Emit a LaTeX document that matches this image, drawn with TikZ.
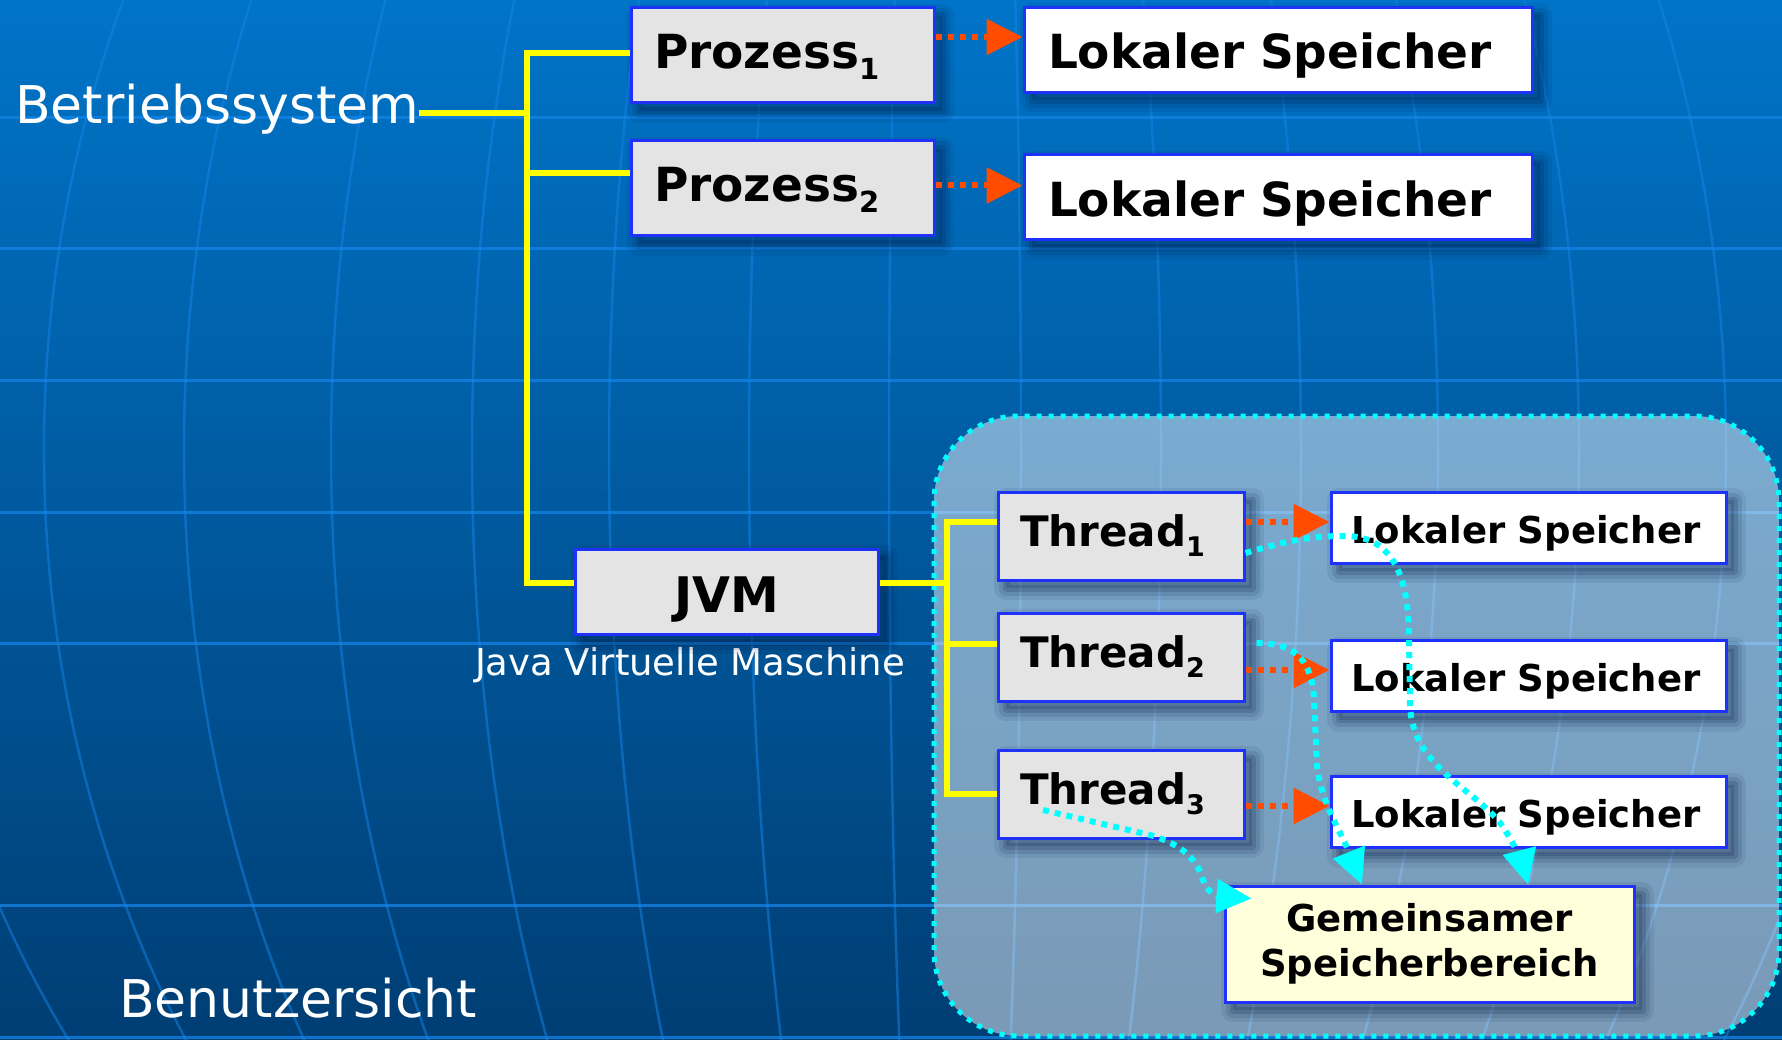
\documentclass[tikz,border=0pt]{standalone}
\usepackage{fontspec}
\setmainfont{DejaVu Sans}
\usetikzlibrary{arrows.meta,calc}

\definecolor{bgtop}{RGB}{0,116,200}
\definecolor{bgbot}{RGB}{0,62,116}
\definecolor{gridblue}{RGB}{20,132,232}
\definecolor{boxline}{RGB}{30,50,250}
\definecolor{boxgray}{RGB}{228,228,228}
\definecolor{memyellow}{RGB}{255,255,220}
\definecolor{linkyellow}{RGB}{255,255,0}
\definecolor{ptrorange}{RGB}{255,76,0}
\definecolor{sharecyan}{RGB}{0,255,255}
\definecolor{shadowblue}{RGB}{0,20,60}

% font size helper (1pt = 1 pixel of the drawing)
\newcommand\fsz[1]{\fontsize{#1}{#1}\selectfont}
\newcommand\psub[1]{\raisebox{-11pt}{\fsz{29}#1}}
\newcommand\tsub[1]{\raisebox{-10pt}{\fsz{27}#1}}

\begin{document}
\begin{tikzpicture}[x=1pt,y=-1pt,
  hgrid/.style={draw=gridblue, line width=3pt, opacity=0.75},
  mgrid/.style={draw=gridblue, line width=2.5pt, opacity=0.5},
  % soft shadow built from stacked translucent outlines
  softshadow/.style={
    preaction={draw=shadowblue, line width=24pt, opacity=0.08, line join=round,
      transform canvas={xshift=8pt,yshift=-8pt}},
    preaction={draw=shadowblue, line width=15pt, opacity=0.11, line join=round,
      transform canvas={xshift=8pt,yshift=-8pt}},
    preaction={draw=shadowblue, fill=shadowblue, line width=7pt, opacity=0.16,
      line join=round, transform canvas={xshift=8pt,yshift=-8pt}}},
  basebox/.style={rectangle, softshadow, draw=boxline, line width=3pt, inner ysep=0pt},
  procbox/.style={basebox, fill=boxgray, font=\bfseries\fsz{47},
    inner xsep=23pt, text width=257pt, align=left, minimum height=95pt,
    text height=36pt, text depth=9pt},
  lsbig/.style={basebox, fill=white, font=\bfseries\fsz{47},
    inner xsep=24pt, text width=460pt, align=left, minimum height=85pt,
    text height=38pt, text depth=0pt},
  jvmbox/.style={basebox, fill=boxgray, font=\bfseries\fsz{49},
    inner xsep=10pt, text width=283pt, align=center, minimum height=85pt,
    text height=41pt, text depth=0pt},
  thrbox/.style={basebox, fill=boxgray, font=\bfseries\fsz{42},
    inner xsep=22pt, text width=202pt, align=left, minimum height=88pt,
    text height=31pt, text depth=10pt},
  lssmall/.style={basebox, fill=white, font=\bfseries\fsz{37},
    inner xsep=20pt, text width=355pt, align=left, minimum height=71pt,
    text height=31pt, text depth=0pt},
  gembox/.style={basebox, fill=memyellow, font=\bfseries\fontsize{37}{45}\selectfont,
    inner xsep=10pt, text width=389pt, align=center, minimum height=116pt},
  whitetext/.style={inner sep=0pt, text=white},
  yline/.style={draw=linkyellow, line width=6pt, line join=miter},
  oarrow/.style={draw=ptrorange, line width=6pt,
    dash pattern=on 6pt off 6pt, -{Triangle[length=36pt,width=35pt]}},
  carrow/.style={draw=sharecyan, line width=6pt,
    dash pattern=on 6pt off 6pt, -{Triangle[length=35pt,width=33pt]}},
  region/.style={draw=sharecyan, line width=5pt, dash pattern=on 5pt off 7pt,
    fill=white, fill opacity=0.48, rounded corners=85pt}
]
\useasboundingbox (0,0) rectangle (1782,1040);

% backdrop: gradient with a faint globe grid
\fill[top color=bgtop, bottom color=bgbot] (0,0) rectangle (1782,1040);
\begin{scope}
  \clip (0,0) rectangle (1782,1040);
  \foreach \yy in {118,249,380,512,643,905,1037}
    \draw[hgrid] (0,\yy) -- (1782,\yy);
  \foreach \aa in {66,206,346,483,624,771,911,1050}
    \draw[mgrid] (955,450) ellipse [x radius=\aa pt, y radius=1100pt];
\end{scope}

% user-space area holding the JVM threads
\path[region] (934,416) rectangle (1779,1036);

% free labels
\node[whitetext, anchor=base west, font=\fsz{52}] (bs) at (15,124) {Betriebssystem};
\node[whitetext, anchor=base west, font=\fsz{52}] (us) at (119,1017) {Benutzersicht};
\node[whitetext, anchor=base, font=\fsz{37}] (jvmlabel) at (690,675) {Java Virtuelle Maschine};

% tree junctions
\coordinate (osbus) at (527,113);
\coordinate (jbus) at (947,583);

% processes and their memories
\node[procbox] (p1) at (782.5,55.5) {Prozess\psub{1}};
\node[procbox] (p2) at (782.5,188.5) {Prozess\psub{2}};
\node[lsbig] (ls1) at (1278,50) {Lokaler Speicher};
\node[lsbig] (ls2) at (1278,197.5) {Lokaler Speicher};

% virtual machine and its threads
\node[jvmbox] (jvm) at (726.5,591.5) {JVM};
\node[thrbox] (t1) at (1121,536) {Thread\tsub{1}};
\node[thrbox] (t2) at (1121,657) {Thread\tsub{2}};
\node[thrbox] (t3) at (1121,794) {Thread\tsub{3}};
\node[lssmall] (lt1) at (1528.5,527.5) {Lokaler Speicher};
\node[lssmall] (lt2) at (1528.5,676) {Lokaler Speicher};
\node[lssmall] (lt3) at (1528.5,812) {Lokaler Speicher};
\node[gembox] (gem) at (1429.5,944) {Gemeinsamer\\Speicherbereich};

% yellow hierarchy lines
\draw[yline] (bs.east |- osbus) -- (osbus) |- ([yshift=2.5pt]p1.west);
\draw[yline] (osbus) |- ([yshift=15.5pt]p2.west);
\draw[yline] (osbus) |- ([yshift=8.5pt]jvm.west);
\draw[yline] (jvm.east |- jbus) -- (jbus) |- ([yshift=14pt]t1.west);
\draw[yline] (jbus) |- ([yshift=13pt]t2.west);
\draw[yline] (jbus) |- (t3.west);

% private memory pointers
\coordinate (o1) at ([yshift=18.5pt]p1.east);
\coordinate (o2) at ([yshift=3pt]p2.east);
\coordinate (o3) at ([yshift=14pt]t1.east);
\coordinate (o4) at ([yshift=-13pt]t2.east);
\coordinate (o5) at ([yshift=-12pt]t3.east);
\draw[oarrow] (o1) -- (o1 -| ls1.west);
\draw[oarrow] (o2) -- (o2 -| ls2.west);
\draw[oarrow] (o3) -- (o3 -| lt1.west);
\draw[oarrow] (o4) -- (o4 -| lt2.west);
\draw[oarrow] (o5) -- (o5 -| lt3.west);

% shared memory access
\coordinate (c1s) at ([yshift=-17pt]t1.east);
\coordinate (c1e) at ([xshift=98.5pt]gem.north);
\coordinate (c2s) at ([xshift=11pt,yshift=14pt]t2.east);
\coordinate (c2e) at ([xshift=-67.5pt]gem.north);
\coordinate (c3s) at ([xshift=-78pt,yshift=-16pt]t3.center);
\coordinate (c3e) at ([xshift=28pt,yshift=-14pt]gem.north west);
\draw[carrow] (c1s) .. controls (1290,540) and (1310,536) .. (1345,536)
  .. controls (1400,536) and (1409,590) .. (1409,640) -- (1410,705)
  .. controls (1412,770) and (1480,790) .. (1505,830)
  .. controls (1516,848) and (1523,865) .. (c1e);
\draw[carrow] (c2s) .. controls (1290,643) and (1312,655) .. (1314,700)
  -- (1317,765) .. controls (1320,800) and (1340,830) .. (c2e);
\draw[carrow] (c3s) -- (1150,835) .. controls (1185,845) and (1198,862) .. (1203,880)
  .. controls (1206,890) and (1215,896) .. (c3e);
\end{tikzpicture}
\end{document}
